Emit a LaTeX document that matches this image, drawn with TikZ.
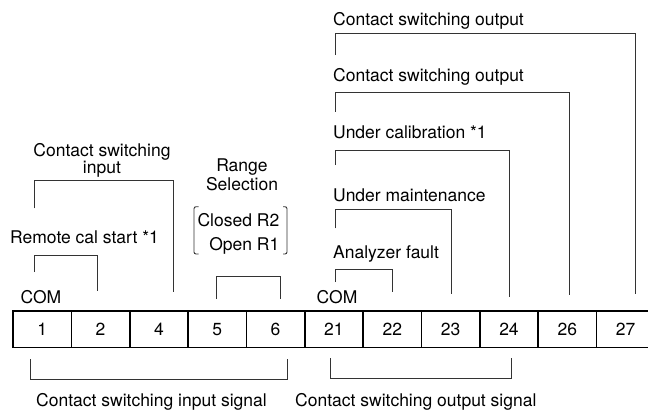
\documentclass[tikz,border=0pt]{standalone}
\usepackage{fontspec}
\setmainfont{TeX Gyre Heros}
\begin{document}
\begin{tikzpicture}[x=1pt,y=-1pt,
  txt/.style={font=\fontsize{17.5}{16.6}\selectfont,inner sep=0pt},
  leg/.style={draw=black!80,line width=0.9pt},
  cell/.style={draw,line width=1.6pt,minimum width=58.35pt,minimum height=36.5pt,
    inner sep=0pt,outer sep=0pt,font=\fontsize{17.5}{17.5}\selectfont}]
\useasboundingbox (0,0) rectangle (648,410);
% terminal strip
\foreach \n [count=\i] in {1,2,4,5,6,21,22,23,24,26,27}
  \node[cell] (t\n) at ({13+(\i-0.5)*58.35},329.25) {\n};
\node[txt,anchor=base] (com1) at (41,303) {COM};
\node[txt,anchor=base] (com2) at (337,303) {COM};
% input side
\node[txt,anchor=base west] (rcs) at (10,243) {Remote cal start *1};
\draw[leg] (34,272) |- (97.7,255) -- (97.7,291);
\node[txt,align=center,anchor=base] (csi) at (102,173.3) {Contact switching\\input};
\draw[leg] (34,208.3) |- (173.3,180) -- (173.3,291.7);
\node[txt,align=center,anchor=base,font=\fontsize{17.5}{18.3}\selectfont] (rng) at (242,190) {Range\\Selection};
\node[txt,align=right,anchor=base east,font=\fontsize{17.5}{24}\selectfont] (sel) at (279.5,250.7) {Closed R2\\Open R1};
\draw[leg,rounded corners=2pt] (198.5,206.7) -- (194,206.7) -- (194,254) -- (198.5,254);
\draw[leg,rounded corners=2pt] (283,206.7) -- (287,206.7) -- (287,254) -- (283,254);
\draw[leg] (216,299) |- (280,276) -- (280,299);
% output side
\node[txt,anchor=base west] (out1) at (333,25) {Contact switching output};
\draw[leg] (335,55) |- (635,33.3) -- (635,294);
\node[txt,anchor=base west] (out2) at (333,81.7) {Contact switching output};
\draw[leg] (335,111.7) |- (569,92.3) -- (569,295);
\node[txt,anchor=base west] (cal) at (333,138.3) {Under calibration *1};
\draw[leg] (335,165) |- (509.3,150) -- (509.3,297);
\node[txt,anchor=base west] (mnt) at (333,201.7) {Under maintenance};
\draw[leg] (335,228.3) |- (451.7,209.3) -- (451.7,294);
\node[txt,anchor=base west] (flt) at (333,258.3) {Analyzer fault};
\draw[leg] (335,282) |- (392,269.3) -- (392,291.7);
% signal groups
\draw[leg] (30,359) |- (287.7,379) -- (287.7,359);
\node[txt,anchor=base west] (ins) at (36,406) {Contact switching input signal};
\draw[leg] (330,358) |- (511.7,378) -- (511.7,358);
\node[txt,anchor=base west] (outs) at (295,406) {Contact switching output signal};
\end{tikzpicture}
\end{document}
